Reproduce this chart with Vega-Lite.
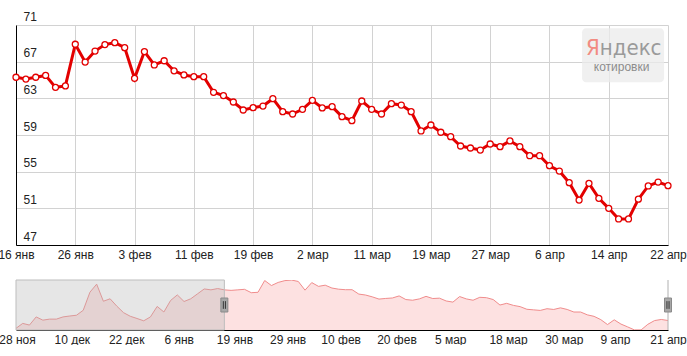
{
  "$schema": "https://vega.github.io/schema/vega-lite/v6.json",
  "autosize": {"type": "pad"},
  "padding": {"left": -3, "top": 10, "right": 0, "bottom": 0},
  "background": "white",
  "config": {
    "view": {"stroke": null},
    "font": "Liberation Sans",
    "axis": {"labelFont": "Liberation Sans", "labelFontSize": 12, "labelColor": "#222", "ticks": false, "tickSize": 0, "title": null, "labelFlush": false, "labelOverlap": false}
  },
  "datasets": {
    "quotes": [
      {"j": 0, "price": 50.45}, {"j": 1, "price": 52.35}, {"j": 2, "price": 51.7}, {"j": 3, "price": 54.85},
      {"j": 4, "price": 53.6}, {"j": 5, "price": 54.0}, {"j": 6, "price": 54.0}, {"j": 7, "price": 54.85},
      {"j": 8, "price": 55.2}, {"j": 9, "price": 55.5}, {"j": 10, "price": 57.4}, {"j": 11, "price": 64.4},
      {"j": 12, "price": 67.5}, {"j": 13, "price": 60.9}, {"j": 14, "price": 61.85}, {"j": 15, "price": 59.0},
      {"j": 16, "price": 56.5}, {"j": 17, "price": 55.1}, {"j": 18, "price": 54.25}, {"j": 19, "price": 53.35},
      {"j": 20, "price": 54.85}, {"j": 21, "price": 58.9}, {"j": 22, "price": 56.75}, {"j": 23, "price": 61.2},
      {"j": 24, "price": 63.35}, {"j": 25, "price": 60.8}, {"j": 26, "price": 61.85}, {"j": 27, "price": 63.75},
      {"j": 28, "price": 65.65}, {"j": 29, "price": 65.3}, {"j": 30, "price": 65.8},
      {"j": 31, "price": 65.3}, {"j": 32, "price": 65.1}, {"j": 33, "price": 65.3}, {"j": 34, "price": 65.5},
      {"j": 35, "price": 64.2}, {"j": 36, "price": 64.35}, {"j": 37, "price": 68.9}, {"j": 38, "price": 66.96},
      {"j": 39, "price": 68.16}, {"j": 40, "price": 68.86}, {"j": 41, "price": 69.07}, {"j": 42, "price": 68.53},
      {"j": 43, "price": 65.18}, {"j": 44, "price": 68.1}, {"j": 45, "price": 66.64}, {"j": 46, "price": 67.1},
      {"j": 47, "price": 66.0}, {"j": 48, "price": 65.55}, {"j": 49, "price": 65.36}, {"j": 50, "price": 65.36},
      {"j": 51, "price": 63.66}, {"j": 52, "price": 63.3}, {"j": 53, "price": 62.6}, {"j": 54, "price": 61.73},
      {"j": 55, "price": 61.98}, {"j": 56, "price": 62.16}, {"j": 57, "price": 62.96}, {"j": 58, "price": 61.55},
      {"j": 59, "price": 61.29}, {"j": 60, "price": 61.8}, {"j": 61, "price": 62.78}, {"j": 62, "price": 61.95},
      {"j": 63, "price": 62.09}, {"j": 64, "price": 61.0}, {"j": 65, "price": 60.56}, {"j": 66, "price": 62.71},
      {"j": 67, "price": 61.8}, {"j": 68, "price": 61.29}, {"j": 69, "price": 62.42}, {"j": 70, "price": 62.27},
      {"j": 71, "price": 61.55}, {"j": 72, "price": 59.44}, {"j": 73, "price": 60.09}, {"j": 74, "price": 59.3},
      {"j": 75, "price": 58.82}, {"j": 76, "price": 57.8}, {"j": 77, "price": 57.58}, {"j": 78, "price": 57.36},
      {"j": 79, "price": 58.02}, {"j": 80, "price": 57.73}, {"j": 81, "price": 58.35}, {"j": 82, "price": 57.73},
      {"j": 83, "price": 56.74}, {"j": 84, "price": 56.74}, {"j": 85, "price": 55.65}, {"j": 86, "price": 55.07},
      {"j": 87, "price": 53.8}, {"j": 88, "price": 51.9}, {"j": 89, "price": 53.73}, {"j": 90, "price": 52.09},
      {"j": 91, "price": 51.0}, {"j": 92, "price": 49.84}, {"j": 93, "price": 49.84}, {"j": 94, "price": 52.0},
      {"j": 95, "price": 53.44}, {"j": 96, "price": 53.87}, {"j": 97, "price": 53.47}
    ]
  },
  "spacing": 35,
  "bounds": "flush",
  "vconcat": [
    {
      "width": 652,
      "height": 220,
      "layer": [
        {
          "data": {"name": "quotes"},
          "transform": [{"filter": "datum.j >= 31"}],
          "mark": {"type": "line", "color": "#e30000", "strokeWidth": 3},
          "encoding": {
            "x": {"field": "j", "type": "quantitative",
              "scale": {"domain": [31, 97], "nice": false, "zero": false},
              "axis": {"values": [31, 37, 43, 49, 55, 61, 67, 73, 79, 85, 91, 97], "tickCount": 30, "grid": true, "gridColor": "#d2d2d2", "domainColor": "#000", "labelPadding": 4,
                "labelExpr": "['16 янв','26 янв','3 фев','11 фев','19 фев','2 мар','11 мар','19 мар','27 мар','6 апр','14 апр','22 апр'][round((datum.value-31)/6)]"}},
            "y": {"field": "price", "type": "quantitative",
              "scale": {"domain": [47, 71], "nice": false, "zero": false},
              "axis": {"values": [47, 51, 55, 59, 63, 67, 71], "tickCount": 20, "grid": true, "gridColor": "#d2d2d2", "domainColor": "#000", "labelAlign": "left", "labelBaseline": "alphabetic", "labelPadding": -7, "labelOffset": -5}}
          }
        },
        {
          "data": {"name": "quotes"},
          "transform": [{"filter": "datum.j >= 31"}],
          "mark": {"type": "point", "filled": true, "fill": "white", "stroke": "#e30000", "strokeWidth": 1.3, "size": 36, "opacity": 1},
          "encoding": {
            "x": {"field": "j", "type": "quantitative"},
            "y": {"field": "price", "type": "quantitative"}
          }
        },
        {
          "data": {"values": [{}]},
          "mark": {"type": "rect", "fill": "#ebebeb", "opacity": 0.75, "cornerRadius": 4},
          "encoding": {
            "x": {"datum": 88.3, "type": "quantitative"},
            "x2": {"datum": 96.6},
            "y": {"datum": 70.64, "type": "quantitative"},
            "y2": {"datum": 64.75}
          }
        },
        {
          "data": {"values": [{"t": "Я"}]},
          "mark": {"type": "text", "align": "right", "baseline": "alphabetic", "fontSize": 22, "font": "DejaVu Sans Condensed, Liberation Sans Narrow, Liberation Sans", "color": "#f28b82"},
          "encoding": {
            "x": {"datum": 90.1, "type": "quantitative"},
            "y": {"datum": 67.73, "type": "quantitative"},
            "text": {"field": "t"}
          }
        },
        {
          "data": {"values": [{"t": "ндекс"}]},
          "mark": {"type": "text", "align": "left", "baseline": "alphabetic", "fontSize": 22, "font": "DejaVu Sans Condensed, Liberation Sans Narrow, Liberation Sans", "color": "#9a9a9a"},
          "encoding": {
            "x": {"datum": 90.1, "type": "quantitative"},
            "y": {"datum": 67.73, "type": "quantitative"},
            "text": {"field": "t"}
          }
        },
        {
          "data": {"values": [{"t": "котировки"}]},
          "mark": {"type": "text", "align": "center", "baseline": "middle", "fontSize": 12, "font": "Liberation Sans", "color": "#8c8c8c"},
          "encoding": {
            "x": {"datum": 92.3, "type": "quantitative"},
            "y": {"datum": 66.45, "type": "quantitative"},
            "text": {"field": "t"}
          }
        }
      ]
    },
    {
      "width": 652,
      "height": 50,
      "layer": [
        {
          "data": {"name": "quotes"},
          "mark": {"type": "area", "color": "#fde1e1", "opacity": 1, "clip": true},
          "encoding": {
            "x": {"field": "j", "type": "quantitative",
              "scale": {"domain": [0, 97], "nice": false, "zero": false},
              "axis": {"values": [0.15, 8.3, 16.4, 24.2, 32.5, 40.4, 48.3, 56.6, 64.6, 73.2, 81.5, 89.1, 97], "tickCount": 30, "grid": false, "domainColor": "#000", "labelPadding": 4,
                "labelExpr": "['28 ноя','10 дек','22 дек','6 янв','19 янв','29 янв','10 фев','20 фев','5 мар','18 мар','30 мар','9 апр','21 апр'][round(datum.value/8.1)]"}},
            "y": {"field": "price", "type": "quantitative", "scale": {"domain": [49.8, 69.1], "nice": false, "zero": false}, "axis": null},
            "y2": {"datum": 49.8}
          }
        },
        {
          "data": {"name": "quotes"},
          "mark": {"type": "line", "color": "#f08c8c", "strokeWidth": 1, "clip": true},
          "encoding": {
            "x": {"field": "j", "type": "quantitative"},
            "y": {"field": "price", "type": "quantitative"}
          }
        },
        {
          "data": {"values": [{}]},
          "mark": {"type": "rect", "fill": "#b4b4b4", "fillOpacity": 0.33, "stroke": "#bdbdbd", "strokeWidth": 1},
          "encoding": {
            "x": {"datum": 0, "type": "quantitative"},
            "x2": {"datum": 31},
            "y": {"datum": 69.1, "type": "quantitative"},
            "y2": {"datum": 49.8}
          }
        },
        {
          "data": {"values": [{}]},
          "mark": {"type": "rule", "color": "#b0b0b0", "strokeWidth": 1},
          "encoding": {
            "x": {"datum": 97, "type": "quantitative"},
            "y": {"datum": 69.1, "type": "quantitative"},
            "y2": {"datum": 49.8}
          }
        },
        {
          "data": {"values": [{}]},
          "mark": {"type": "point", "shape": "M-0.5,-1H0.5V1H-0.5Z", "size": 196, "filled": true, "fill": "#a8a8a8", "stroke": "#8a8a8a", "strokeWidth": 1, "opacity": 1},
          "encoding": {
            "x": {"datum": 31, "type": "quantitative"},
            "y": {"datum": 59.45, "type": "quantitative"}
          }
        },
        {
          "data": {"values": [{}]},
          "mark": {"type": "point", "shape": "M-0.5,-1H0.5V1H-0.5Z", "size": 196, "filled": true, "fill": "#a8a8a8", "stroke": "#8a8a8a", "strokeWidth": 1, "opacity": 1},
          "encoding": {
            "x": {"datum": 97, "type": "quantitative"},
            "y": {"datum": 59.45, "type": "quantitative"}
          }
        },
        {
          "data": {"values": [{}]},
          "mark": {"type": "point", "shape": "M-0.15,-0.55V0.55M0.15,-0.55V0.55", "size": 196, "filled": false, "stroke": "#333", "strokeWidth": 1, "opacity": 1},
          "encoding": {
            "x": {"datum": 31, "type": "quantitative"},
            "y": {"datum": 59.45, "type": "quantitative"}
          }
        },
        {
          "data": {"values": [{}]},
          "mark": {"type": "point", "shape": "M-0.15,-0.55V0.55M0.15,-0.55V0.55", "size": 196, "filled": false, "stroke": "#333", "strokeWidth": 1, "opacity": 1},
          "encoding": {
            "x": {"datum": 97, "type": "quantitative"},
            "y": {"datum": 59.45, "type": "quantitative"}
          }
        }
      ]
    }
  ]
}
